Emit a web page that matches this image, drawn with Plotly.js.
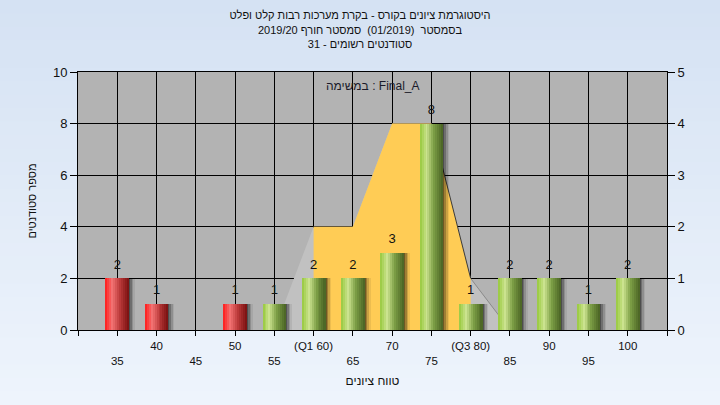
<!DOCTYPE html>
<html><head><meta charset="utf-8">
<script src="https://cdn.plot.ly/plotly-3.0.1.min.js"></script>
<style>html,body{margin:0;padding:0;background:#e2ebf7}#chart{width:720px;height:405px}</style>
</head><body><div id="chart"></div>
<script>
// ---- data ----
const scores = [35,40,45,50,55,60,65,70,75,80,85,90,95,100];
const counts = [2,1,0,1,1,2,2,3,8,1,2,2,1,2];
const tickLabels = ['35','40','45','50','55','(Q1 60)','65','70','75','(Q3 80)','85','90','95','100'];
const curveX = [55,60,65,70,75,80,85];
const curveY = [0,2,2,4,4,1,0];
const q1 = 60, q3 = 80;
const passScore = 55;
const titleLines = ['היסטוגרמת ציונים בקורס - בקרת מערכות רבות קלט ופלט','בסמסטר \u00A0(01/2019) \u00A0סמסטר חורף 2019/20','סטודנטים רשומים - 31'];
const noteText = 'במשימה : Final_A';
const xTitle = 'טווח ציונים';
const yTitle = 'מספר סטודנטים';

// ---- styling ----
const W = 720, H = 405;
const M = {l:78, r:53, t:72, b:75};
const xMin = 30, xMax = 105;
const FONT = 'Liberation Sans, Arial, sans-serif';
const BW = 3.0, NS = 12;

function lerp(a,b,t){return a+(b-a)*t;}
function grad(stops, t){
  for(let i=1;i<stops.length;i++){
    if(t<=stops[i][0]){
      const s0=stops[i-1], s1=stops[i];
      const u=(t-s0[0])/(s1[0]-s0[0]);
      return 'rgb('+[0,1,2].map(k=>Math.round(lerp(s0[1][k],s1[1][k],u))).join(',')+')';
    }
  }
  const l=stops[stops.length-1][1];return 'rgb('+l.join(',')+')';
}
const greenStops=[[0,[150,200,60]],[0.3,[205,228,145]],[0.6,[125,160,70]],[1,[72,98,35]]];
const redStops=[[0,[255,25,25]],[0.3,[242,115,115]],[0.6,[190,60,60]],[1,[120,15,15]]];

const traces = [];
// gray distribution polygon (right axis, main y)
traces.push({type:'scatter',x:curveX,y:curveY,mode:'lines',line:{width:0},fill:'tozeroy',fillcolor:'#c1c1c1',yaxis:'y',hoverinfo:'skip',showlegend:false});
// yellow Q1..Q3 part
const yx=[],yy=[];
curveX.forEach((v,i)=>{if(v>=q1&&v<=q3){yx.push(v);yy.push(curveY[i]);}});
traces.push({type:'scatter',x:yx,y:yy,mode:'lines',line:{width:0},fill:'tozeroy',fillcolor:'#ffcc55',yaxis:'y',hoverinfo:'skip',showlegend:false});
// edge lines
const maxV=Math.max(...curveY);
const lastPeak=curveY.lastIndexOf(maxV);
const iq3=curveX.indexOf(q3);
traces.push({type:'scatter',x:curveX.slice(lastPeak,iq3+1),y:curveY.slice(lastPeak,iq3+1),mode:'lines',line:{color:'#3a3a3a',width:1},yaxis:'y',hoverinfo:'skip',showlegend:false});
traces.push({type:'scatter',x:curveX.slice(iq3),y:curveY.slice(iq3),mode:'lines',line:{color:'#8a8a8a',width:1},yaxis:'y',hoverinfo:'skip',showlegend:false});

// shadows (soft, right of bars)
[[0.15,'rgba(0,0,0,0.30)'],[0.35,'rgba(0,0,0,0.22)'],[0.55,'rgba(0,0,0,0.14)'],[0.75,'rgba(0,0,0,0.07)']].forEach(s=>{
  traces.push({type:'bar',x:scores,y:counts,yaxis:'y2',width:BW,offset:-BW/2+s[0],marker:{color:s[1],line:{width:0}},hoverinfo:'skip',showlegend:false});
});
// gradient strips
for(let i=0;i<NS;i++){
  const t=(i+0.5)/NS;
  traces.push({type:'bar',x:scores,y:counts,yaxis:'y2',width:BW/NS+0.02,offset:-BW/2+i*BW/NS,
    marker:{color:scores.map(s=>s<passScore?grad(redStops,t):grad(greenStops,t)),line:{width:0}},hoverinfo:'skip',showlegend:false});
}
// value labels
traces.push({type:'scatter',x:scores,y:counts,yaxis:'y2',mode:'markers+text',text:counts.map(c=>c>0?String(c):''),
  marker:{size:9,color:'rgba(0,0,0,0)'},
  textposition:'top center',textfont:{family:FONT,size:13,color:'#111'},cliponaxis:false,hoverinfo:'skip',showlegend:false});

// background shapes
const pw=W-M.l-M.r, ph=H-M.t-M.b;
const shapes=[];
const NB=30, yb=-M.b/ph, yt=1+M.t/ph;
for(let i=0;i<NB;i++){
  const t=i/(NB-1);
  const c=[0,1,2].map(k=>Math.round(lerp([238,244,252][k],[213,226,243][k],t)));
  shapes.push({type:'rect',xref:'paper',yref:'paper',layer:'below',x0:-M.l/pw-0.01,x1:1+M.r/pw+0.01,
    y0:yb+(yt-yb)*i/NB,y1:yb+(yt-yb)*(i+1)/NB+0.002,fillcolor:'rgb('+c.join(',')+')',line:{width:0}});
}
shapes.push({type:'rect',xref:'paper',yref:'paper',layer:'below',x0:0,x1:1,y0:0,y1:1,fillcolor:'#b3b3b3',line:{width:0}});

const tickvals=[xMin,...scores,xMax];
const ticktext=['',...tickLabels.map((l,i)=>i%2===0?'<br>'+l:l),''];

const layout={
  width:W,height:H,margin:M,
  paper_bgcolor:'#e2ebf7',plot_bgcolor:'#b3b3b3',
  font:{family:FONT,size:12,color:'#111'},
  title:{text:titleLines.join('<br>'),font:{family:FONT,size:11,color:'#111'},x:0.5,xref:'container',y:0.952,yanchor:'top'},
  barmode:'overlay',bargap:0,
  showlegend:false,
  xaxis:{range:[xMin,xMax],tickvals:tickvals,ticktext:ticktext,ticks:'outside',ticklen:5,tickcolor:'#000',
    showgrid:true,gridcolor:'#000',gridwidth:1,showline:true,linecolor:'#000',linewidth:1,mirror:true,zeroline:false,
    tickfont:{family:FONT,size:11.5,color:'#111'},
    title:{text:xTitle,font:{family:FONT,size:12,color:'#111'},standoff:10}},
  yaxis:{range:[0,5],dtick:1,side:'right',ticks:'outside',ticklen:7,tickcolor:'#000',
    showgrid:true,gridcolor:'#000',gridwidth:1,showline:true,linecolor:'#000',zeroline:false,
    tickfont:{family:FONT,size:13,color:'#111'}},
  yaxis2:{range:[0,10],dtick:2,side:'left',overlaying:'y',ticks:'outside',ticklen:7,tickcolor:'#000',
    showgrid:false,showline:true,linecolor:'#000',zeroline:false,
    tickfont:{family:FONT,size:13,color:'#111'},
    title:{text:yTitle,font:{family:FONT,size:11,color:'#111'},standoff:14}},
  shapes:shapes,
  annotations:[{text:noteText,xref:'paper',yref:'paper',x:0.5,y:(ph-14)/ph,showarrow:false,
    font:{family:FONT,size:12,color:'#1a1a2a'},xanchor:'center',yanchor:'middle'}]
};
Plotly.newPlot('chart',traces,layout,{staticPlot:true,displayModeBar:false});
</script></body></html>
